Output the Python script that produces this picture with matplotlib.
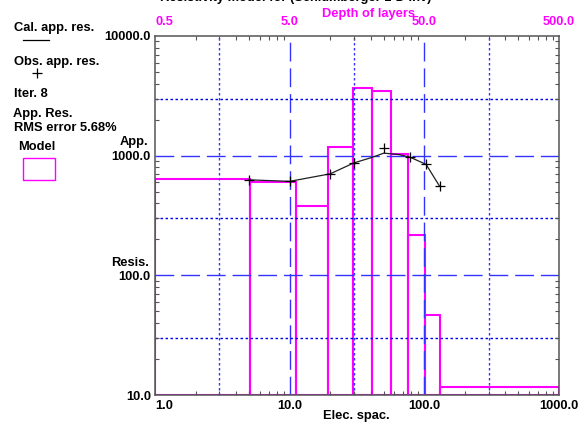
import matplotlib
matplotlib.use("Agg")
import matplotlib.pyplot as plt
from matplotlib.lines import Line2D
from matplotlib.patches import Rectangle
from matplotlib.ticker import LogLocator, NullFormatter, NullLocator, FixedLocator, FixedFormatter

# ---------------- data ----------------
# Model layers (depth in m, resistivity in ohm-m)
layer_top = [0.5, 2.54, 5.6, 9.6, 14.8, 20.6, 28.3, 37.8, 50.5, 65.3]
layer_bottom = [2.54, 5.6, 9.6, 14.8, 20.6, 28.3, 37.8, 50.5, 65.3, 500.0]
layer_res = [642, 601, 379, 1180, 3700, 3465, 1035, 219, 47, 11.7]

# Observed apparent resistivity
obs_spacing = [5, 10, 20, 30, 50, 78, 103, 130]
obs_res = [621, 613, 707, 862, 1166, 973, 846, 554]

# Calculated apparent resistivity
cal_spacing = [5, 10, 20, 30, 41, 50, 65, 78, 103, 130]
cal_res = [628, 610, 705, 870, 968, 1050, 1020, 973, 846, 554]

x_ticks = [1, 10, 100, 1000]
x_tick_labels = ["1.0", "10.0", "100.0", "1000.0"]
y_ticks = [10, 100, 1000, 10000]
y_tick_labels = ["10.0", "100.0", "1000.0", "10000.0"]
depth_ticks = [0.5, 5, 50, 500]
depth_tick_labels = ["0.5", "5.0", "50.0", "500.0"]
dash_grid_x = [10, 100]
dot_grid_x = [3, 30, 300]
dash_grid_y = [100, 1000]
dot_grid_y = [30, 300, 3000]

# ---------------- style ----------------
W, H = 587, 428
plt.rcParams["font.family"] = ["Liberation Sans", "DejaVu Sans"]
plt.rcParams["font.weight"] = "bold"
plt.rcParams["lines.scale_dashes"] = False
FS = 9.3
MAG = "#FF00FF"
BLUE = "#3333FF"
SPINE = "#555555"

fig = plt.figure(figsize=(W / 100, H / 100), dpi=100)
fig.patch.set_facecolor("white")

def fx(px):
    return px / W

def fy(py):
    return 1 - py / H

ax = fig.add_axes([fx(155), fy(395), (559 - 155) / W, (395 - 36) / H])
ax.set_xscale("log")
ax.set_yscale("log")
ax.set_xlim(1, 1000)
ax.set_ylim(10, 10000)

ax2 = ax.twiny()
ax2.set_zorder(ax.get_zorder() - 1)
ax.patch.set_visible(False)
ax2.patch.set_facecolor("white")
ax2.set_xscale("log")
ax2.set_xlim(0.5, 500)

# grid lines
for xv in dash_grid_x:
    ax.axvline(xv, color=BLUE, lw=1.0, dashes=(13.5, 5), zorder=1)
for xv in dot_grid_x:
    ax.axvline(xv, color=BLUE, lw=1.0, dashes=(1.8, 1.8), zorder=1)
for yv in dash_grid_y:
    ax.axhline(yv, color=BLUE, lw=1.0, dashes=(13.5, 5), zorder=1)
for yv in dot_grid_y:
    ax.axhline(yv, color="#0000EE", lw=1.0, dashes=(1.8, 1.8), zorder=1)

# calculated and observed
ax.plot(cal_spacing, cal_res, color="#202020", lw=0.9, zorder=3)
ax.plot(obs_spacing, obs_res, linestyle="none", marker="+", color="black",
        markersize=7, markeredgewidth=0.9, zorder=4)

# depth axis with layer model
ax2.set_xticks(depth_ticks)
ax2.set_xticklabels(depth_tick_labels, fontsize=FS, fontweight="bold", color=MAG)
ax2.xaxis.set_minor_locator(NullLocator())
ax2.tick_params(axis="x", which="major", length=0, pad=5.5)
ax2.xaxis.get_major_ticks()[0].label2.set_horizontalalignment("left")
for s in ax2.spines.values():
    s.set_visible(False)

widths = [b - t for t, b in zip(layer_top, layer_bottom)]
heights = [r - 10 for r in layer_res]
ax2.bar(layer_top, heights, width=widths, bottom=10, align="edge",
        fill=False, edgecolor=MAG, linewidth=1.5, zorder=2)
ax2.set_xlim(0.5, 500)
ax.set_ylim(10, 10000)

# main axis ticks (set after twin so they are not reset)
ax.xaxis.set_major_locator(FixedLocator(x_ticks))
ax.xaxis.set_major_formatter(FixedFormatter(x_tick_labels))
ax.yaxis.set_major_locator(FixedLocator(y_ticks))
ax.yaxis.set_major_formatter(FixedFormatter(y_tick_labels))
ax.xaxis.set_minor_locator(LogLocator(base=10, subs=range(2, 10)))
ax.yaxis.set_minor_locator(LogLocator(base=10, subs=range(2, 10)))
ax.xaxis.set_minor_formatter(NullFormatter())
ax.yaxis.set_minor_formatter(NullFormatter())
ax.tick_params(which="major", length=0, pad=3.0, labelsize=FS)
ax.tick_params(axis="x", which="major", pad=3.5)
ax.tick_params(which="minor", direction="in", length=3.2, width=0.8,
               color=SPINE, top=True, right=True)
for lab in ax.get_xticklabels() + ax.get_yticklabels():
    lab.set_fontweight("bold")
for s in ax.spines.values():
    s.set_color(SPINE)
    s.set_linewidth(1.1)
    s.set_zorder(5)
ax.xaxis.get_major_ticks()[0].label1.set_horizontalalignment("left")

# axis labels
fig.text(fx(134), fy(142), "App.", fontsize=FS, fontweight="bold",
         ha="center", va="center")
fig.text(fx(130), fy(262.5), "Resis.", fontsize=FS, fontweight="bold",
         ha="center", va="center")
fig.text(fx(356), fy(416.5), "Elec. spac.", fontsize=FS, fontweight="bold",
         ha="center", va="center")
fig.text(fx(368), fy(13.5), "Depth of layers", fontsize=FS, fontweight="bold",
         ha="center", va="center", color=MAG)
fig.text(fx(160), fy(1.5), "Resistivity model for (Schlumberger 1-D Inv)",
         fontsize=FS, fontweight="bold", ha="left", va="baseline")

# left legend block
fig.text(fx(14), fy(28.5), "Cal. app. res.", fontsize=FS, fontweight="bold",
         ha="left", va="center")
fig.add_artist(Line2D([fx(23), fx(49)], [fy(40), fy(40)], color="black",
                      lw=0.9, transform=fig.transFigure))
fig.text(fx(14), fy(62), "Obs. app. res.", fontsize=FS, fontweight="bold",
         ha="left", va="center")
fig.add_artist(Line2D([fx(36.7)], [fy(73)], marker="+", color="black",
                      markersize=7, markeredgewidth=0.9, linestyle="none",
                      transform=fig.transFigure))
fig.text(fx(14), fy(94), "Iter. 8", fontsize=FS, fontweight="bold",
         ha="left", va="center")
fig.text(fx(13), fy(113.5), "App. Res.", fontsize=FS, fontweight="bold",
         ha="left", va="center")
fig.text(fx(14), fy(128), "RMS error 5.68%", fontsize=FS, fontweight="bold",
         ha="left", va="center")
fig.text(fx(18), fy(147.5), "Model", fontsize=FS, fontweight="bold",
         ha="left", va="center")
fig.add_artist(Rectangle((fx(23), fy(180)), (55 - 23) / W, (180 - 158) / H,
                         fill=False, edgecolor=MAG, lw=1.0,
                         transform=fig.transFigure))

fig.savefig("out.png", dpi=100, facecolor="white")
